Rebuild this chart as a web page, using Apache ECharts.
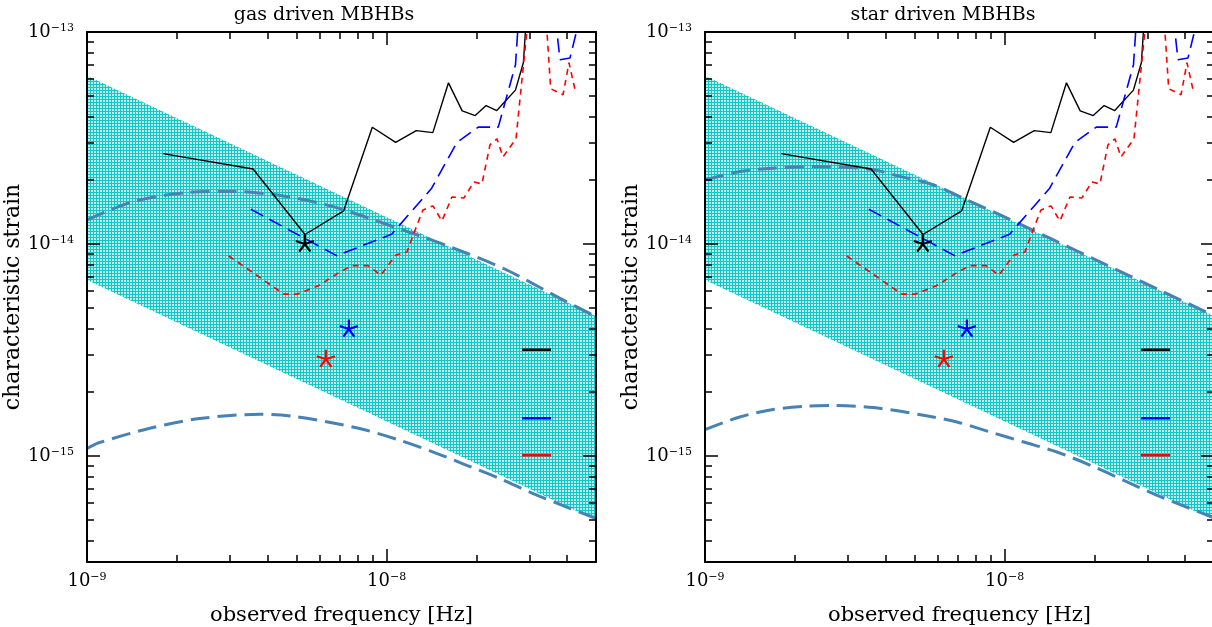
<!DOCTYPE html>
<html>
<head>
<meta charset="utf-8">
<script src="https://cdn.jsdelivr.net/npm/echarts@6/dist/echarts.min.js"></script>
<style>
html,body{margin:0;padding:0;background:#fff;}
#chart{width:1212px;height:627px;}
</style>
</head>
<body>
<div id="chart"></div>
<script>
// ---------- axis ranges and ticks ----------
const freqRange = [1e-9, 5e-8];
const strainRange = [3.1623e-16, 1e-13];
const freqTickLabels = [1e-9, 1e-8];
const strainTickLabels = [1e-15, 1e-14, 1e-13];
const freqMinorTicks = [2e-9, 3e-9, 4e-9, 5e-9, 6e-9, 7e-9, 8e-9, 9e-9, 2e-8, 3e-8, 4e-8];
const strainMinorTicks = [4e-16, 5e-16, 6e-16, 7e-16, 8e-16, 9e-16,
  2e-15, 3e-15, 4e-15, 5e-15, 6e-15, 7e-15, 8e-15, 9e-15,
  2e-14, 3e-14, 4e-14, 5e-14, 6e-14, 7e-14, 8e-14, 9e-14];

const panelTitles = ['gas driven MBHBs', 'star driven MBHBs'];
const xAxisTitle = 'observed frequency [Hz]';
const yAxisTitle = 'characteristic strain';

// ---------- shaded band (same in both panels) ----------
const bandFreq = [1e-9, 5e-8];
const bandUpper = [6.22e-14, 4.58e-15];
const bandLower = [6.76e-15, 4.98e-16];

// ---------- steel-blue dashed model curves ----------
const gasUpperFreq = [1.0e-9, 1.424e-9, 2.148e-9, 3.074e-9, 4.515e-9, 6.63e-9, 1.108e-8, 1.627e-8, 2.517e-8, 3.792e-8, 4.964e-8];
const gasUpperStrain = [1.298e-14, 1.584e-14, 1.747e-14, 1.770e-14, 1.685e-14, 1.50e-14, 1.177e-14, 9.71e-15, 7.54e-15, 5.54e-15, 4.57e-15];
const gasLowerFreq = [1e-9, 1.088e-9, 1.620e-9, 2.379e-9, 3.775e-9, 4.876e-9, 6.63e-9, 8.575e-9, 1.108e-8, 1.431e-8, 1.850e-8, 2.39e-8, 3.088e-8, 3.992e-8, 4.964e-8];
const gasLowerStrain = [1.084e-15, 1.151e-15, 1.351e-15, 1.502e-15, 1.574e-15, 1.540e-15, 1.432e-15, 1.322e-15, 1.186e-15, 1.044e-15, 9.04e-16, 7.82e-16, 6.64e-16, 5.74e-16, 5.1e-16];

const starUpperFreq = [1e-9, 1.306e-9, 1.688e-9, 2.297e-9, 3.555e-9, 4.48e-9, 5.79e-9, 7.485e-9, 9.67e-9, 1.422e-8, 2.09e-8, 3.317e-8, 4.95e-8];
const starUpperStrain = [2.006e-14, 2.196e-14, 2.278e-14, 2.318e-14, 2.253e-14, 2.084e-14, 1.9e-14, 1.614e-14, 1.371e-14, 1.062e-14, 8.22e-15, 6.03e-15, 4.62e-15];
const starLowerFreq = [1e-9, 1.306e-9, 1.688e-9, 2.183e-9, 2.68e-9, 3.646e-9, 5.36e-9, 6.93e-9, 8.96e-9, 1.158e-8, 1.497e-8, 1.935e-8, 2.5e-8, 3.234e-8, 4.18e-8, 4.95e-8];
const starLowerStrain = [1.332e-15, 1.528e-15, 1.656e-15, 1.717e-15, 1.73e-15, 1.693e-15, 1.557e-15, 1.447e-15, 1.298e-15, 1.164e-15, 1.044e-15, 9.04e-16, 7.68e-16, 6.52e-16, 5.64e-16, 5.15e-16];

// ---------- sensitivity curves (same in both panels) ----------
const blackFreq = [1.795e-9, 3.584e-9, 5.342e-9, 7.19e-9, 8.96e-9, 1.072e-8, 1.256e-8, 1.427e-8, 1.609e-8, 1.788e-8, 1.976e-8, 2.149e-8, 2.332e-8, 2.692e-8, 2.862e-8, 2.924e-8];
const blackStrain = [2.667e-14, 2.258e-14, 1.109e-14, 1.434e-14, 3.555e-14, 3.013e-14, 3.425e-14, 3.352e-14, 5.758e-14, 4.245e-14, 4.034e-14, 4.498e-14, 4.259e-14, 5.318e-14, 7.18e-14, 1.143e-13];

const blueFreq = [3.523e-9, 6.808e-9, 1.039e-8, 1.414e-8, 1.717e-8, 2.023e-8, 2.359e-8, 2.693e-8, 2.756e-8, 3.663e-8, 3.792e-8, 4.094e-8, 4.406e-8];
const blueStrain = [1.459e-14, 8.81e-15, 1.111e-14, 1.833e-14, 3.015e-14, 3.558e-14, 3.558e-14, 7.005e-14, 1.15e-13, 1.15e-13, 7.4e-14, 7.54e-14, 1.15e-13];

const redFreq = [2.974e-9, 3.632e-9, 4.539e-9, 5.017e-9, 5.896e-9, 6.982e-9, 7.656e-9, 8.66e-9, 9.57e-9, 1.074e-8, 1.169e-8, 1.234e-8, 1.322e-8, 1.428e-8, 1.53e-8, 1.652e-8, 1.812e-8, 1.957e-8, 2.081e-8, 2.213e-8, 2.335e-8, 2.446e-8, 2.703e-8, 2.953e-8, 3.418e-8, 3.53e-8, 3.881e-8, 4.063e-8, 4.255e-8];
const redStrain = [8.78e-15, 7.22e-15, 5.8e-15, 5.8e-15, 6.33e-15, 7.37e-15, 7.91e-15, 7.91e-15, 7.14e-15, 8.87e-15, 9.17e-15, 1.127e-14, 1.447e-14, 1.512e-14, 1.284e-14, 1.667e-14, 1.649e-14, 1.963e-14, 1.92e-14, 2.935e-14, 3.133e-14, 2.576e-14, 3.133e-14, 1.08e-13, 1.08e-13, 5.4e-14, 5.06e-14, 7.16e-14, 5.34e-14];

// ---------- asterisk markers ----------
const markerColors = ['#000000', '#0000ff', '#ff0000'];
const markerFreq = [5.335e-9, 7.483e-9, 6.27e-9];
const markerStrain = [1.0e-14, 3.97e-15, 2.86e-15];

const seriesNames = ['black limit', 'blue limit', 'red limit'];

// ---------- helpers ----------
const L = Math.log10;
const FONT = 'DejaVu Serif';
const pts = (fs, hs) => fs.map((f, i) => [L(f), L(hs[i])]);

function hatchCanvas() {
  const c = document.createElement('canvas');
  c.width = 3; c.height = 3;
  const g = c.getContext('2d');
  g.fillStyle = '#bdeeee'; g.fillRect(0, 0, 3, 3);
  g.fillStyle = '#12c6c6';
  g.fillRect(0, 0, 3, 1);
  g.fillRect(0, 0, 1, 3);
  return c;
}
const hatch = hatchCanvas();

const expLabel = v => '{b|10}{s|\u2212' + Math.round(-v) + '}';
const labelRich = {
  b: { fontFamily: FONT, fontSize: 18, color: '#000' },
  s: { fontFamily: FONT, fontSize: 11, color: '#000', verticalAlign: 'top' }
};

const gridsPos = [{ left: 87, width: 509 }, { left: 705, width: 509 }];
const grids = gridsPos.map(p => ({ left: p.left, width: p.width, top: 32, height: 530, show: false, outerBoundsMode: 'none', containLabel: false }));

const xAxes = [], yAxes = [];
gridsPos.forEach((p, g) => {
  const xBase = { gridIndex: g, type: 'value', min: L(freqRange[0]), max: L(freqRange[1]), splitLine: { show: false }, z: 10 };
  const yBase = { gridIndex: g, type: 'value', min: L(strainRange[0]), max: L(strainRange[1]), splitLine: { show: false }, z: 10 };
  const line = { show: true, onZero: false, lineStyle: { color: '#000', width: 2 } };
  const noLine = { show: false, onZero: false };
  const tick = (vals, len) => ({ show: true, inside: true, length: len, customValues: vals.map(L), lineStyle: { color: '#000', width: 1.5 } });
  xAxes.push(Object.assign({}, xBase, {
    position: 'bottom', axisLine: line, axisTick: tick(freqTickLabels, 13),
    axisLabel: { show: true, margin: 10, customValues: freqTickLabels.map(L), formatter: expLabel, rich: labelRich },
    name: xAxisTitle, nameLocation: 'middle', nameGap: 43,
    nameTextStyle: { fontFamily: FONT, fontSize: 21, color: '#000' }
  }));
  xAxes.push(Object.assign({}, xBase, { position: 'bottom', axisLine: noLine, axisTick: tick(freqMinorTicks, 7), axisLabel: { show: false } }));
  xAxes.push(Object.assign({}, xBase, { position: 'top', axisLine: line, axisTick: tick(freqTickLabels, 13), axisLabel: { show: false } }));
  xAxes.push(Object.assign({}, xBase, { position: 'top', axisLine: noLine, axisTick: tick(freqMinorTicks, 7), axisLabel: { show: false } }));

  yAxes.push(Object.assign({}, yBase, {
    position: 'left', axisLine: line, axisTick: tick(strainTickLabels, 13),
    axisLabel: { show: true, margin: 13, customValues: strainTickLabels.map(L), formatter: expLabel, rich: labelRich },
    name: yAxisTitle, nameLocation: 'middle', nameGap: 52, nameRotate: 90,
    nameTextStyle: { fontFamily: FONT, fontSize: 22, color: '#000' }
  }));
  yAxes.push(Object.assign({}, yBase, { position: 'left', axisLine: noLine, axisTick: tick(strainMinorTicks, 7), axisLabel: { show: false } }));
  yAxes.push(Object.assign({}, yBase, { position: 'right', axisLine: line, axisTick: tick(strainTickLabels, 13), axisLabel: { show: false } }));
  yAxes.push(Object.assign({}, yBase, { position: 'right', axisLine: noLine, axisTick: tick(strainMinorTicks, 7), axisLabel: { show: false } }));
});

function lineSeries(name, fs, hs, color, type, width, g, z, smooth) {
  return {
    type: 'line', name: name, xAxisIndex: 4 * g, yAxisIndex: 4 * g,
    data: pts(fs, hs), symbol: 'none', showSymbol: false, smooth: smooth || false,
    clip: true, z: z, silent: true,
    lineStyle: { color: color, type: type, width: width, cap: 'butt' },
    itemStyle: { color: color }
  };
}

const asteriskPath = 'path://M10,0 L10,10 M19.51,6.91 L10,10 M15.88,18.09 L10,10 M4.12,18.09 L10,10 M0.49,6.91 L10,10 M10,20 L10,20.01';

const series = [];
const modelCurves = [
  [[gasUpperFreq, gasUpperStrain], [gasLowerFreq, gasLowerStrain]],
  [[starUpperFreq, starUpperStrain], [starLowerFreq, starLowerStrain]]
];
[0, 1].forEach(g => {
  series.push({
    type: 'custom', xAxisIndex: 4 * g, yAxisIndex: 4 * g, z: 1, silent: true,
    data: [[L(bandFreq[0]), L(bandUpper[0])]],
    renderItem: function (params, api) {
      const poly = [];
      for (let i = 0; i < bandFreq.length; i++) poly.push(api.coord([L(bandFreq[i]), L(bandUpper[i])]));
      for (let i = bandFreq.length - 1; i >= 0; i--) poly.push(api.coord([L(bandFreq[i]), L(bandLower[i])]));
      return { type: 'polygon', shape: { points: poly }, style: { fill: { image: hatch, repeat: 'repeat' } } };
    }
  });
  modelCurves[g].forEach(c => {
    series.push(lineSeries('model', c[0], c[1], '#4682b4', [19, 8], 3, g, 2, 0.3));
  });
  series.push(lineSeries(seriesNames[0], blackFreq, blackStrain, '#000000', 'solid', 1.4, g, 3));
  series.push(lineSeries(seriesNames[1], blueFreq, blueStrain, '#0000ff', [14, 7], 1.6, g, 3));
  series.push(lineSeries(seriesNames[2], redFreq, redStrain, '#ff0000', [6, 5], 1.6, g, 3));
  markerFreq.forEach((f, k) => {
    series.push({
      type: 'scatter', xAxisIndex: 4 * g, yAxisIndex: 4 * g, z: 4, silent: true,
      data: [[L(f), L(markerStrain[k])]],
      symbol: asteriskPath, symbolSize: 19, symbolKeepAspect: true,
      itemStyle: { color: 'rgba(0,0,0,0)', borderColor: markerColors[k], borderWidth: 2.2, opacity: 1 }
    });
  });
});

// legend keys (no text in the original)
const legendLeft = [522, 1141];
const legendTop = [348.5, 417, 454];
const legends = [];
[0, 1].forEach(g => {
  seriesNames.forEach((n, k) => {
    legends.push({
      show: true, data: [n], left: legendLeft[g], top: legendTop[k], padding: 0,
      icon: 'rect', itemWidth: 29, itemHeight: 2.5, selectedMode: false,
      formatter: function () { return ''; }, textStyle: { fontSize: 1 },
      itemStyle: { borderWidth: 0 }
    });
  });
});

const titleX = [324, 943];
const graphics = panelTitles.map((t, g) => ({
  type: 'text', x: titleX[g], y: 15, silent: true,
  style: { text: t, fontFamily: FONT, fontSize: 19, fill: '#000', align: 'center', verticalAlign: 'middle' }
}));

const chart = echarts.init(document.getElementById('chart'), null, { renderer: 'canvas' });
chart.setOption({
  animation: false,
  backgroundColor: '#ffffff',
  grid: grids,
  xAxis: xAxes,
  yAxis: yAxes,
  legend: legends,
  graphic: graphics,
  series: series
});
</script>
</body>
</html>
